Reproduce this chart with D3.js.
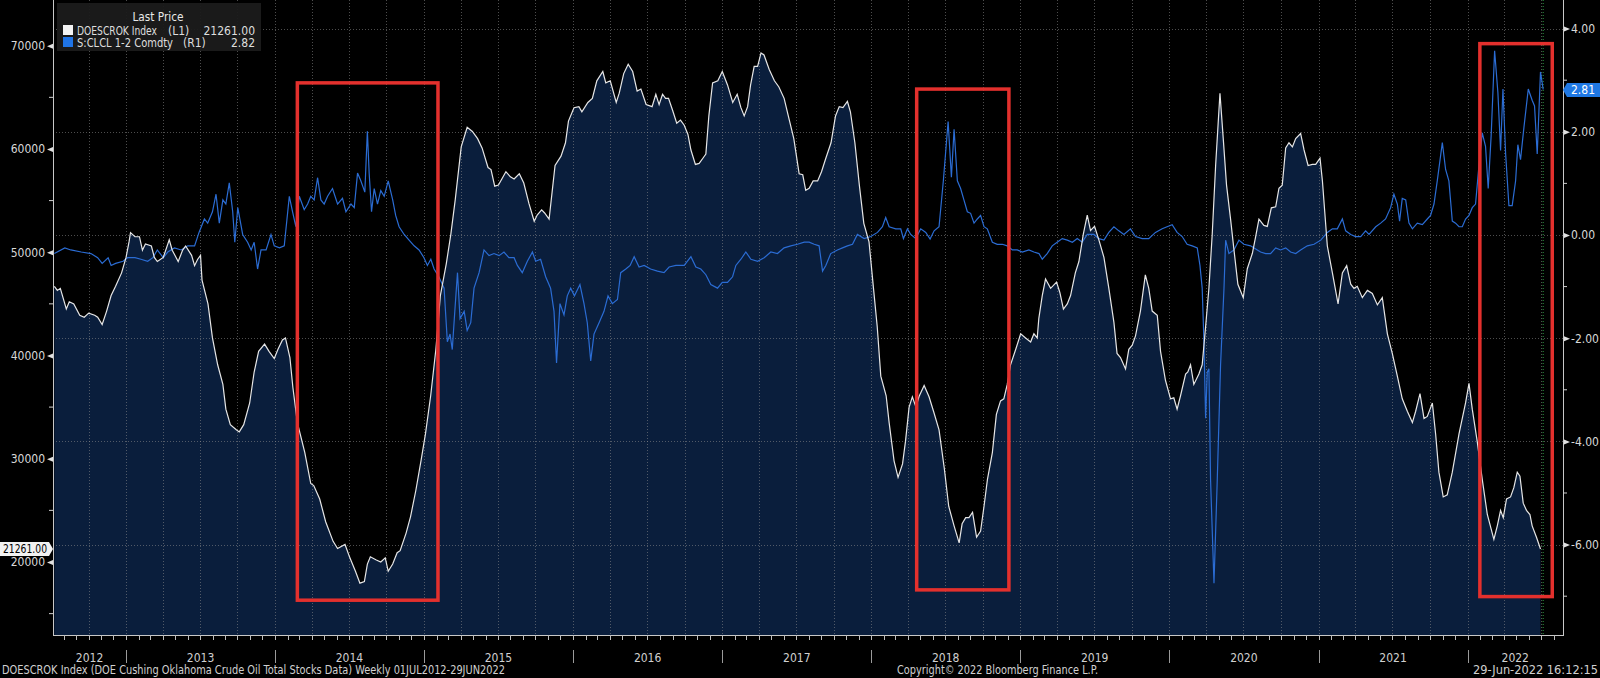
<!DOCTYPE html>
<html>
<head>
<meta charset="utf-8">
<script src="https://cdn.jsdelivr.net/npm/d3@7"></script>
<style>
html, body { margin: 0; padding: 0; background: #000; overflow: hidden; }
svg { display: block; }
</style>
</head>
<body>
<svg id="chart" width="1600" height="678"></svg>
<script>
// DOESCROK Index: Cushing crude stocks, weekly (decimal year / barrels k)
const stockYears = [
  2012.52, 2012.54, 2012.56, 2012.60, 2012.62, 2012.65, 2012.69, 2012.72, 2012.75, 2012.79, 2012.81, 2012.84, 2012.87, 2012.90, 2012.93, 2012.97,
  2013.00, 2013.02, 2013.03, 2013.06, 2013.09, 2013.11, 2013.13, 2013.17, 2013.19, 2013.21, 2013.25, 2013.29, 2013.31, 2013.35, 2013.38, 2013.40, 2013.44, 2013.46, 2013.48, 2013.50, 2013.51, 2013.55, 2013.58, 2013.615, 2013.65, 2013.67, 2013.70, 2013.74, 2013.76, 2013.79, 2013.83, 2013.86, 2013.89, 2013.93, 2013.96, 2013.995,
  2014.02, 2014.05, 2014.07, 2014.10, 2014.12, 2014.15, 2014.20, 2014.24, 2014.26, 2014.30, 2014.34, 2014.39, 2014.42, 2014.47, 2014.50, 2014.54, 2014.57, 2014.60, 2014.62, 2014.64, 2014.68, 2014.71, 2014.74, 2014.76, 2014.79, 2014.82, 2014.84, 2014.88, 2014.91, 2014.945, 2014.98,
  2015.01, 2015.045, 2015.08, 2015.11, 2015.15, 2015.18, 2015.21, 2015.25, 2015.29, 2015.325, 2015.36, 2015.39, 2015.43, 2015.45, 2015.475, 2015.50, 2015.55, 2015.58, 2015.605, 2015.64, 2015.67, 2015.705, 2015.74, 2015.76, 2015.79, 2015.81, 2015.84, 2015.86, 2015.88, 2015.92, 2015.95, 2015.97,
  2016.007, 2016.04, 2016.06, 2016.10, 2016.13, 2016.16, 2016.20, 2016.22, 2016.25, 2016.29, 2016.31, 2016.34, 2016.37, 2016.40, 2016.43, 2016.455, 2016.49, 2016.53, 2016.555, 2016.577, 2016.60, 2016.62, 2016.64, 2016.666, 2016.695, 2016.72, 2016.745, 2016.77, 2016.79, 2016.82, 2016.845, 2016.87, 2016.89, 2016.91, 2016.935, 2016.97,
  2017.00, 2017.035, 2017.07, 2017.10, 2017.125, 2017.147, 2017.17, 2017.19, 2017.214, 2017.237, 2017.26, 2017.28, 2017.315, 2017.35, 2017.38, 2017.415, 2017.45, 2017.48, 2017.516, 2017.54, 2017.56, 2017.583, 2017.61, 2017.64, 2017.666, 2017.695, 2017.73, 2017.76, 2017.785, 2017.81, 2017.84, 2017.86, 2017.89, 2017.92, 2017.95, 2017.985,
  2018.015, 2018.04, 2018.064, 2018.10, 2018.12, 2018.153, 2018.18, 2018.21, 2018.23, 2018.254, 2018.276, 2018.30, 2018.32, 2018.355, 2018.388, 2018.42, 2018.455, 2018.49, 2018.52, 2018.556, 2018.59, 2018.61, 2018.634, 2018.656, 2018.68, 2018.707, 2018.734, 2018.757, 2018.78, 2018.813, 2018.84, 2018.868, 2018.89, 2018.913, 2018.935, 2018.97,
  2019.003, 2019.036, 2019.07, 2019.092, 2019.114, 2019.125, 2019.148, 2019.17, 2019.204, 2019.244, 2019.266, 2019.29, 2019.316, 2019.338, 2019.37, 2019.394, 2019.423, 2019.45, 2019.472, 2019.499, 2019.528, 2019.562, 2019.595, 2019.629, 2019.65, 2019.673, 2019.707, 2019.729, 2019.752, 2019.774, 2019.807, 2019.84, 2019.863, 2019.886, 2019.92, 2019.942, 2019.975,
  2020.009, 2020.031, 2020.053, 2020.076, 2020.11, 2020.125, 2020.143, 2020.165, 2020.199, 2020.221, 2020.244, 2020.266, 2020.288, 2020.311, 2020.34, 2020.362, 2020.384, 2020.411, 2020.434, 2020.46, 2020.496, 2020.523, 2020.557, 2020.579, 2020.601, 2020.634, 2020.657, 2020.684, 2020.713, 2020.735, 2020.757, 2020.78, 2020.802, 2020.825, 2020.847, 2020.88, 2020.903, 2020.93, 2020.959, 2020.981,
  2021.01, 2021.026, 2021.059, 2021.093, 2021.131, 2021.16, 2021.189, 2021.216, 2021.238, 2021.26, 2021.294, 2021.328, 2021.361, 2021.395, 2021.428, 2021.462, 2021.495, 2021.529, 2021.562, 2021.596, 2021.63, 2021.652, 2021.681, 2021.708, 2021.73, 2021.764, 2021.786, 2021.808, 2021.837, 2021.864, 2021.898, 2021.943, 2021.987,
  2022.01, 2022.032, 2022.065, 2022.099, 2022.133, 2022.177, 2022.2, 2022.222, 2022.24, 2022.262, 2022.289, 2022.311, 2022.334, 2022.352, 2022.374, 2022.396, 2022.419, 2022.434, 2022.463, 2022.49
];
const stockValues = [
  46700, 46300, 46500, 44500, 45200, 45000, 43900, 43700, 44100, 43900, 43700, 43000, 44300, 45800, 46700, 48000,
  49500, 51000, 51900, 51500, 51500, 50200, 50800, 50600, 49500, 49100, 49500, 51200, 50200, 49100, 50200, 50600, 49700, 48700, 49300, 49700, 47300, 45000, 41700, 39100, 37200, 34800, 33300, 32800, 32600, 33300, 35400, 38400, 40400, 41100, 40400, 39700,
  40600, 41500, 41700, 39800, 36900, 33500, 30600, 27600, 27400, 26100, 23900, 22000, 21300, 21700, 20500, 19100, 17950, 18100, 19800, 20500, 20200, 20000, 20400, 19100, 19800, 20900, 21100, 22800, 24400, 26900, 29800,
  32400, 36100, 40600, 45800, 48900, 51700, 55100, 60200, 62100, 61700, 61000, 60100, 58200, 58000, 56400, 56500, 57800, 57300, 57100, 57600, 56700, 54700, 53000, 53600, 54100, 53800, 53200, 55800, 58400, 59300, 60600, 62700,
  64000, 64100, 63600, 64500, 64900, 66600, 67500, 66400, 66600, 64500, 65400, 67300, 68200, 67500, 65600, 65800, 64300, 64100, 65300, 64300, 65300, 64900, 64900, 63800, 62500, 62800, 62300, 61400, 59900, 58500, 58600, 59100, 59500, 63200, 66400, 66600,
  67500, 66200, 64500, 65300, 64000, 63200, 64100, 66200, 68000, 68000, 69300, 69100, 67700, 66600, 66000, 64900, 62800, 61000, 57600, 57500, 56000, 56200, 56900, 56900, 57800, 59100, 60600, 63200, 64100, 64000, 64600, 63600, 60600, 56500, 52800, 51000,
  46500, 42800, 38000, 36100, 33500, 29800, 28200, 29500, 31700, 35000, 36000, 35000, 36000, 37100, 36000, 34500, 32800, 29100, 25400, 23500, 21850, 23700, 24300, 24300, 24800, 22400, 23000, 25400, 28000, 30600, 34300, 35600, 35800, 37200, 39100, 40600,
  42100, 41700, 41300, 42100, 41700, 43600, 45800, 47400, 46500, 47100, 46100, 44500, 45000, 45800, 48000, 49100, 51700, 53600, 52100, 52500, 51200, 49500, 46500, 43200, 40200, 39800, 38700, 40600, 41000, 41900, 44300, 47800, 46500, 44300, 43900, 40400, 37600,
  35800, 35900, 34800, 36100, 38200, 38400, 39100, 37200, 38200, 39100, 42800, 46500, 51700, 58400, 65400, 61000, 56500, 53200, 50200, 46900, 45600, 48400, 49900, 51500, 53200, 52600, 52500, 54300, 54400, 56200, 56500, 60100, 60600, 60200, 61000, 61500, 59900, 58400, 58500, 58500,
  59100, 56900, 50600, 48000, 45000, 48000, 48700, 46900, 46500, 46700, 45600, 46300, 46000, 44900, 45600, 42100, 40200, 38000, 35800, 34600, 33500, 34600, 36300, 33900, 34100, 35400, 32400, 28700, 26300, 26500, 28700, 32400, 35400,
  37300, 34800, 31700, 28000, 24600, 22200, 23500, 25000, 24300, 26100, 26300, 27200, 28700, 28300, 25700, 25000, 24600, 23500, 22400, 21261
];

// S:CLCL 1-2 Comdty: WTI 1st-2nd month spread (decimal year / $)
const spreadYears = [
  2012.52, 2012.59, 2012.63, 2012.70, 2012.765, 2012.81, 2012.84, 2012.88, 2012.90, 2012.93, 2012.98,
  2013.01, 2013.06, 2013.10, 2013.145, 2013.18, 2013.21, 2013.25, 2013.28, 2013.325, 2013.37, 2013.414, 2013.46, 2013.49, 2013.526, 2013.548, 2013.58, 2013.604, 2013.626, 2013.65, 2013.67, 2013.693, 2013.716, 2013.73, 2013.75, 2013.783, 2013.816, 2013.84, 2013.86, 2013.883, 2013.906, 2013.94, 2013.973, 2013.995,
  2014.03, 2014.062, 2014.096, 2014.118, 2014.14, 2014.163, 2014.196, 2014.219, 2014.24, 2014.263, 2014.286, 2014.308, 2014.33, 2014.353, 2014.386, 2014.42, 2014.453, 2014.476, 2014.51, 2014.532, 2014.554, 2014.576, 2014.603, 2014.62, 2014.632, 2014.648, 2014.666, 2014.688, 2014.71, 2014.733, 2014.76, 2014.79, 2014.81, 2014.833, 2014.867, 2014.90, 2014.934, 2014.967,
  2015.0, 2015.023, 2015.046, 2015.068, 2015.10, 2015.135, 2015.157, 2015.175, 2015.19, 2015.207, 2015.225, 2015.242, 2015.27, 2015.29, 2015.314, 2015.336, 2015.37, 2015.403, 2015.437, 2015.47, 2015.504, 2015.537, 2015.57, 2015.605, 2015.627, 2015.66, 2015.694, 2015.728, 2015.75, 2015.783, 2015.817, 2015.85, 2015.873, 2015.89, 2015.913, 2015.94, 2015.962, 2015.985,
  2016.01, 2016.047, 2016.074, 2016.096, 2016.119, 2016.141, 2016.175, 2016.208, 2016.235, 2016.264, 2016.298, 2016.32, 2016.354, 2016.383, 2016.41, 2016.443, 2016.477, 2016.52, 2016.566, 2016.61, 2016.644, 2016.69, 2016.745, 2016.79, 2016.823, 2016.856, 2016.89, 2016.923, 2016.968,
  2017.0, 2017.035, 2017.069, 2017.091, 2017.125, 2017.158, 2017.192, 2017.237, 2017.281, 2017.326, 2017.37, 2017.415, 2017.46, 2017.505, 2017.55, 2017.583, 2017.617, 2017.65, 2017.673, 2017.695, 2017.728, 2017.773, 2017.807, 2017.84, 2017.874, 2017.907, 2017.952, 2017.997,
  2018.042, 2018.075, 2018.097, 2018.12, 2018.164, 2018.198, 2018.216, 2018.243, 2018.265, 2018.299, 2018.332, 2018.366, 2018.395, 2018.422, 2018.455, 2018.484, 2018.516, 2018.538, 2018.556, 2018.578, 2018.60, 2018.622, 2018.645, 2018.667, 2018.69, 2018.712, 2018.734, 2018.757, 2018.779, 2018.813, 2018.846, 2018.88, 2018.913, 2018.947, 2018.98,
  2019.014, 2019.058, 2019.092, 2019.126, 2019.148, 2019.181, 2019.215, 2019.248, 2019.282, 2019.316, 2019.35, 2019.383, 2019.416, 2019.45, 2019.495, 2019.528, 2019.562, 2019.595, 2019.629, 2019.662, 2019.696, 2019.74, 2019.774, 2019.819, 2019.863, 2019.908, 2019.953, 2019.986,
  2020.02, 2020.053, 2020.087, 2020.12, 2020.154, 2020.188, 2020.206, 2020.221, 2020.232, 2020.244, 2020.255, 2020.266, 2020.277, 2020.30, 2020.322, 2020.344, 2020.367, 2020.378, 2020.40, 2020.434, 2020.467, 2020.50, 2020.545, 2020.59, 2020.612, 2020.646, 2020.679, 2020.713, 2020.746, 2020.78, 2020.813, 2020.847, 2020.88, 2020.925, 2020.97,
  2021.015, 2021.059, 2021.093, 2021.126, 2021.16, 2021.182, 2021.216, 2021.249, 2021.283, 2021.316, 2021.339, 2021.384, 2021.417, 2021.45, 2021.484, 2021.506, 2021.529, 2021.544, 2021.562, 2021.585, 2021.607, 2021.63, 2021.663, 2021.697, 2021.73, 2021.752, 2021.775, 2021.797, 2021.831, 2021.853, 2021.875, 2021.898, 2021.92, 2021.943, 2021.965, 2021.987,
  2022.01, 2022.032, 2022.054, 2022.077, 2022.099, 2022.121, 2022.139, 2022.159, 2022.182, 2022.204, 2022.222, 2022.238, 2022.256, 2022.278, 2022.30, 2022.323, 2022.338, 2022.356, 2022.379, 2022.408, 2022.434, 2022.45, 2022.468, 2022.49, 2022.508
];
const spreadValues = [
  -0.36, -0.25, -0.29, -0.33, -0.36, -0.44, -0.55, -0.44, -0.59, -0.55, -0.51,
  -0.44, -0.44, -0.47, -0.51, -0.44, -0.29, -0.44, -0.33, -0.25, -0.29, -0.21, -0.21, 0.05, 0.31, 0.23, 0.45, 0.79, 0.23, 0.68, 0.60, 1.01, 0.45, -0.14, 0.53, 0.01, -0.14, -0.29, -0.14, -0.66, -0.29, -0.29, 0.01, -0.21,
  -0.25, -0.21, 0.75, 0.45, 0.16, 0.75, 0.49, 0.60, 0.75, 0.68, 1.11, 0.68, 0.60, 0.75, 0.90, 0.60, 0.71, 0.45, 0.60, 0.53, 1.20, 1.05, 0.83, 2.01, 1.20, 0.45, 0.90, 0.60, 0.86, 0.75, 1.05, 0.68, 0.38, 0.16, 0.01, -0.10, -0.21, -0.29,
  -0.44, -0.59, -0.47, -0.66, -0.81, -1.03, -2.07, -1.92, -2.22, -1.48, -0.73, -1.62, -1.48, -1.85, -1.70, -1.03, -0.73, -0.29, -0.40, -0.36, -0.40, -0.33, -0.44, -0.44, -0.59, -0.73, -0.51, -0.33, -0.51, -0.47, -0.81, -1.03, -1.48, -2.48, -1.33, -1.55, -1.18, -1.03,
  -1.18, -0.96, -1.33, -1.70, -2.44, -1.92, -1.70, -1.48, -1.18, -1.33, -1.25, -0.73, -0.66, -0.59, -0.42, -0.62, -0.59, -0.66, -0.70, -0.73, -0.62, -0.59, -0.59, -0.42, -0.62, -0.66, -0.77, -0.96, -1.03,
  -0.92, -0.92, -0.81, -0.59, -0.47, -0.33, -0.47, -0.51, -0.44, -0.33, -0.36, -0.25, -0.21, -0.18, -0.14, -0.14, -0.18, -0.21, -0.70, -0.59, -0.36, -0.29, -0.25, -0.21, -0.18, 0.01, -0.07, -0.03,
  0.05, 0.16, 0.34, 0.16, 0.12, 0.12, -0.07, 0.12, 0.01, -0.07, 0.12, 0.05, -0.08, 0.08, 0.16, 1.05, 2.20, 1.12, 2.05, 1.05, 0.90, 0.68, 0.45, 0.42, 0.23, 0.31, 0.38, 0.16, 0.12, -0.14, -0.18, -0.18, -0.21, -0.29, -0.29,
  -0.33, -0.29, -0.33, -0.36, -0.47, -0.36, -0.21, -0.14, -0.07, -0.10, -0.14, -0.07, -0.14, 0.01, 0.01, -0.07, -0.10, 0.05, 0.16, 0.08, 0.01, 0.12, -0.03, -0.07, -0.07, 0.05, 0.12, 0.16,
  0.20, 0.05, -0.03, -0.18, -0.21, -0.25, -0.59, -1.03, -2.00, -3.55, -2.66, -2.59, -4.74, -6.75, -4.74, -2.52, -1.03, -0.10, -0.36, -0.29, -0.10, -0.18, -0.21, -0.29, -0.33, -0.36, -0.36, -0.25, -0.29, -0.25, -0.33, -0.36, -0.29, -0.21, -0.18,
  -0.10, 0.05, 0.12, 0.12, 0.31, 0.08, 0.01, -0.03, -0.03, 0.08, 0.01, 0.16, 0.23, 0.31, 0.53, 0.79, 0.60, 0.27, 0.71, 0.68, 0.23, 0.12, 0.23, 0.20, 0.31, 0.38, 0.60, 1.05, 1.79, 1.27, 1.05, 0.27, 0.23, 0.16, 0.16, 0.31,
  0.38, 0.53, 0.60, 1.35, 1.98, 1.72, 0.90, 1.94, 3.57, 2.76, 1.64, 2.83, 1.57, 0.57, 0.57, 1.05, 1.75, 1.46, 2.09, 2.83, 2.61, 2.50, 1.57, 3.16, 2.82
];

// axis ticks
const leftTicks = [20000, 30000, 40000, 50000, 60000, 70000];
const leftMinor = [15000, 25000, 35000, 45000, 55000, 65000];
const rightTicks = [-6, -4, -2, 0, 2, 4];
const rightMinor = [-7, -5, -3, -1, 1, 3];
const yearLabels = [2012, 2013, 2014, 2015, 2016, 2017, 2018, 2019, 2020, 2021, 2022];

// highlighted periods (decimal year range, stock range on L1)
const boxFrom = [2014.15, 2018.305, 2022.083];
const boxTo = [2015.094, 2018.924, 2022.569];
const boxHigh = [66400, 65800, 70200];
const boxLow = [16300, 17300, 16650];

const lastStock = 21261.00;
const lastSpread = 2.82;
const markSpread = 2.81;

const FONT = '"Liberation Sans Narrow", "DejaVu Sans Condensed", "Liberation Sans", sans-serif';
const W = 1600, H = 678;
const pL = 53, pR = 1563, pT = 0, pB = 635;

/* anno decimale -> data UTC */
function toDate(y) {
    const yr = Math.floor(y);
    const a = Date.UTC(yr, 0, 1), b = Date.UTC(yr + 1, 0, 1);
    return new Date(a + (y - yr) * (b - a));
}

const stock = d3.zip(stockYears, stockValues).map(d => ({ date: toDate(d[0]), v: d[1] }));
const spread = d3.zip(spreadYears, spreadValues).map(d => ({ date: toDate(d[0]), v: d[1] }));

const svg = d3.select("#chart");

const x = d3.scaleUtc()
    .domain([new Date(Date.UTC(2012, 6, 6)), new Date(Date.UTC(2022, 7, 23))])
    .range([pL, pR]);
const yL = d3.scaleLinear().domain([12930, 74426]).range([pB, pT]);
const yR = d3.scaleLinear().domain([-7.752, 4.554]).range([pB, pT]);

svg.append("rect").attr("width", W).attr("height", H).attr("fill", "#000");

// area under the stocks line
svg.append("path")
    .datum(stock)
    .attr("fill", "#0a1e3c")
    .attr("d", d3.area().x(d => x(d.date)).y0(pB).y1(d => yL(d.v)));

// dotted grid
const grid = svg.append("g").attr("stroke", "#8c8c8c").attr("stroke-opacity", 0.55)
    .attr("stroke-dasharray", "1,2").attr("stroke-width", 1);
grid.selectAll(".vg")
    .data(d3.utcMonth.every(3).range(x.domain()[0], x.domain()[1]))
    .enter().append("line")
    .attr("x1", d => Math.round(x(d)) + 0.5).attr("x2", d => Math.round(x(d)) + 0.5)
    .attr("y1", pT).attr("y2", pB);
grid.selectAll(".hg")
    .data(rightTicks)
    .enter().append("line")
    .attr("x1", pL).attr("x2", pR)
    .attr("y1", d => Math.round(yR(d)) + 0.5).attr("y2", d => Math.round(yR(d)) + 0.5);

// current date marker
const lastDate = spread[spread.length - 1].date;
svg.append("line")
    .attr("x1", x(lastDate)).attr("x2", x(lastDate))
    .attr("y1", pT).attr("y2", pB)
    .attr("stroke", "#2f9e44").attr("stroke-dasharray", "1,2");

// series
svg.append("path")
    .datum(spread)
    .attr("fill", "none")
    .attr("stroke", "#2b6cd3")
    .attr("stroke-width", 1.2)
    .attr("d", d3.line().x(d => x(d.date)).y(d => yR(d.v)));

svg.append("path")
    .datum(stock)
    .attr("fill", "none")
    .attr("stroke", "#e6e6e6")
    .attr("stroke-width", 1.2)
    .attr("d", d3.line().x(d => x(d.date)).y(d => yL(d.v)));

// red highlight boxes
svg.selectAll(".box")
    .data(d3.range(boxFrom.length))
    .enter().append("rect")
    .attr("x", i => x(toDate(boxFrom[i])))
    .attr("y", i => yL(boxHigh[i]))
    .attr("width", i => x(toDate(boxTo[i])) - x(toDate(boxFrom[i])))
    .attr("height", i => yL(boxLow[i]) - yL(boxHigh[i]))
    .attr("fill", "none")
    .attr("stroke", "#e3302d")
    .attr("stroke-width", 3.5);

// axis lines
const axisColor = "#c8c8c8";
svg.append("line").attr("x1", pL + 0.5).attr("x2", pL + 0.5).attr("y1", pT).attr("y2", pB)
    .attr("stroke", axisColor);
svg.append("line").attr("x1", pR + 0.5).attr("x2", pR + 0.5).attr("y1", pT).attr("y2", pB)
    .attr("stroke", axisColor);
svg.append("line").attr("x1", pL).attr("x2", pR + 1).attr("y1", pB + 0.5).attr("y2", pB + 0.5)
    .attr("stroke", axisColor);

// left axis (L1)
const gL = svg.append("g")
    .attr("transform", `translate(${pL},0)`)
    .call(d3.axisLeft(yL).tickValues(leftTicks).tickSize(0).tickPadding(8).tickFormat(d3.format("d")));
gL.select(".domain").remove();
gL.attr("font-family", FONT).attr("font-size", 12);
gL.selectAll("text").attr("fill", "#d8d8d8");
gL.selectAll(".tick").append("path")
    .attr("d", "M0,-2.5L-6,0L0,2.5Z")
    .attr("fill", "#e0e0e0");

svg.append("g").selectAll("line")
    .data(leftMinor)
    .enter().append("line")
    .attr("x1", pL - 4).attr("x2", pL)
    .attr("y1", d => yL(d)).attr("y2", d => yL(d))
    .attr("stroke", "#d0d0d0");

// right axis (R1)
const gR = svg.append("g")
    .attr("transform", `translate(${pR},0)`)
    .call(d3.axisRight(yR).tickValues(rightTicks).tickSize(0).tickPadding(8).tickFormat(d => d.toFixed(2)));
gR.select(".domain").remove();
gR.attr("font-family", FONT).attr("font-size", 12);
gR.selectAll("text").attr("fill", "#d8d8d8");
gR.selectAll(".tick").append("path")
    .attr("d", "M1,-2.5L7,0L1,2.5Z")
    .attr("fill", "#e0e0e0");

svg.append("g").selectAll("line")
    .data(rightMinor)
    .enter().append("line")
    .attr("x1", pR).attr("x2", pR + 4)
    .attr("y1", d => yR(d)).attr("y2", d => yR(d))
    .attr("stroke", "#d0d0d0");

// time axis: monthly ticks, year separators and labels
svg.append("g").selectAll("line")
    .data(d3.utcMonth.range(x.domain()[0], x.domain()[1]))
    .enter().append("line")
    .attr("x1", d => Math.round(x(d)) + 0.5).attr("x2", d => Math.round(x(d)) + 0.5)
    .attr("y1", pB).attr("y2", pB + 5)
    .attr("stroke", "#bdbdbd");

svg.append("g").selectAll("line")
    .data(yearLabels.slice(1))
    .enter().append("line")
    .attr("x1", d => Math.round(x(new Date(Date.UTC(d, 0, 1)))) + 0.5)
    .attr("x2", d => Math.round(x(new Date(Date.UTC(d, 0, 1)))) + 0.5)
    .attr("y1", pB + 15).attr("y2", pB + 28)
    .attr("stroke", "#9a9a9a");

svg.append("g").selectAll("text")
    .data(yearLabels)
    .enter().append("text")
    .attr("x", d => {
        const a = Math.max(x(new Date(Date.UTC(d, 0, 1))), pL);
        const b = Math.min(x(new Date(Date.UTC(d + 1, 0, 1))), pR);
        return (a + b) / 2;
    })
    .attr("y", pB + 27)
    .attr("text-anchor", "middle")
    .attr("font-family", FONT).attr("font-size", 12)
    .attr("fill", "#d0d0d0")
    .text(d => d);

// last value tags
const yTagL = yL(lastStock);
svg.append("path")
    .attr("d", `M0,${yTagL - 7}L49,${yTagL - 7}L53,${yTagL}L49,${yTagL + 7}L0,${yTagL + 7}Z`)
    .attr("fill", "#f2f2f2");
svg.append("text")
    .attr("x", 3).attr("y", yTagL + 4.5)
    .attr("textLength", 44).attr("lengthAdjust", "spacingAndGlyphs")
    .attr("font-family", FONT).attr("font-size", 12)
    .attr("fill", "#000")
    .text(d3.format(".2f")(lastStock));

const yTagR = yR(markSpread);
svg.append("path")
    .attr("d", `M${pR},${yTagR}L${pR + 4},${yTagR - 7}L${W},${yTagR - 7}L${W},${yTagR + 7}L${pR + 4},${yTagR + 7}Z`)
    .attr("fill", "#1f78e4");
svg.append("text")
    .attr("x", pR + 8).attr("y", yTagR + 4.5)
    .attr("font-family", FONT).attr("font-size", 12)
    .attr("fill", "#fff")
    .text(markSpread.toFixed(2));

// legend
const lg = svg.append("g").attr("font-family", FONT).attr("font-size", 12).attr("fill", "#dedede");
lg.append("rect").attr("x", 57).attr("y", 3).attr("width", 204).attr("height", 48)
    .attr("fill", "#1b1b1b").attr("fill-opacity", 0.95);
lg.append("text").attr("x", 158).attr("y", 21).attr("text-anchor", "middle").attr("fill", "#e8e8e8")
    .attr("textLength", 51).attr("lengthAdjust", "spacingAndGlyphs").text("Last Price");
lg.append("rect").attr("x", 63).attr("y", 25).attr("width", 10).attr("height", 10).attr("fill", "#f4f4f4");
lg.append("rect").attr("x", 63).attr("y", 37).attr("width", 10).attr("height", 10).attr("fill", "#1f74e6");
lg.append("text").attr("x", 77).attr("y", 35)
    .attr("textLength", 80).attr("lengthAdjust", "spacingAndGlyphs").text("DOESCROK Index");
lg.append("text").attr("x", 168).attr("y", 35).text("(L1)");
lg.append("text").attr("x", 255).attr("y", 35).attr("text-anchor", "end").text(d3.format(".2f")(lastStock));
lg.append("text").attr("x", 77).attr("y", 47)
    .attr("textLength", 96).attr("lengthAdjust", "spacingAndGlyphs").text("S:CLCL 1-2 Comdty");
lg.append("text").attr("x", 183).attr("y", 47).text("(R1)");
lg.append("text").attr("x", 255).attr("y", 47).attr("text-anchor", "end").text(lastSpread.toFixed(2));

// footer
const ft = svg.append("g").attr("font-family", FONT).attr("font-size", 11.5).attr("fill", "#d0d0d0");
ft.append("text").attr("x", 2).attr("y", 674)
    .attr("textLength", 503).attr("lengthAdjust", "spacingAndGlyphs")
    .text("DOESCROK Index (DOE Cushing Oklahoma Crude Oil Total Stocks Data)  Weekly 01JUL2012-29JUN2022");
ft.append("text").attr("x", 897).attr("y", 674)
    .attr("textLength", 201).attr("lengthAdjust", "spacingAndGlyphs")
    .text("Copyright\u00A9 2022 Bloomberg Finance L.P.");
ft.append("text").attr("x", 1473).attr("y", 674)
    .attr("textLength", 125).attr("lengthAdjust", "spacingAndGlyphs")
    .text("29-Jun-2022 16:12:15");
</script>
</body>
</html>
